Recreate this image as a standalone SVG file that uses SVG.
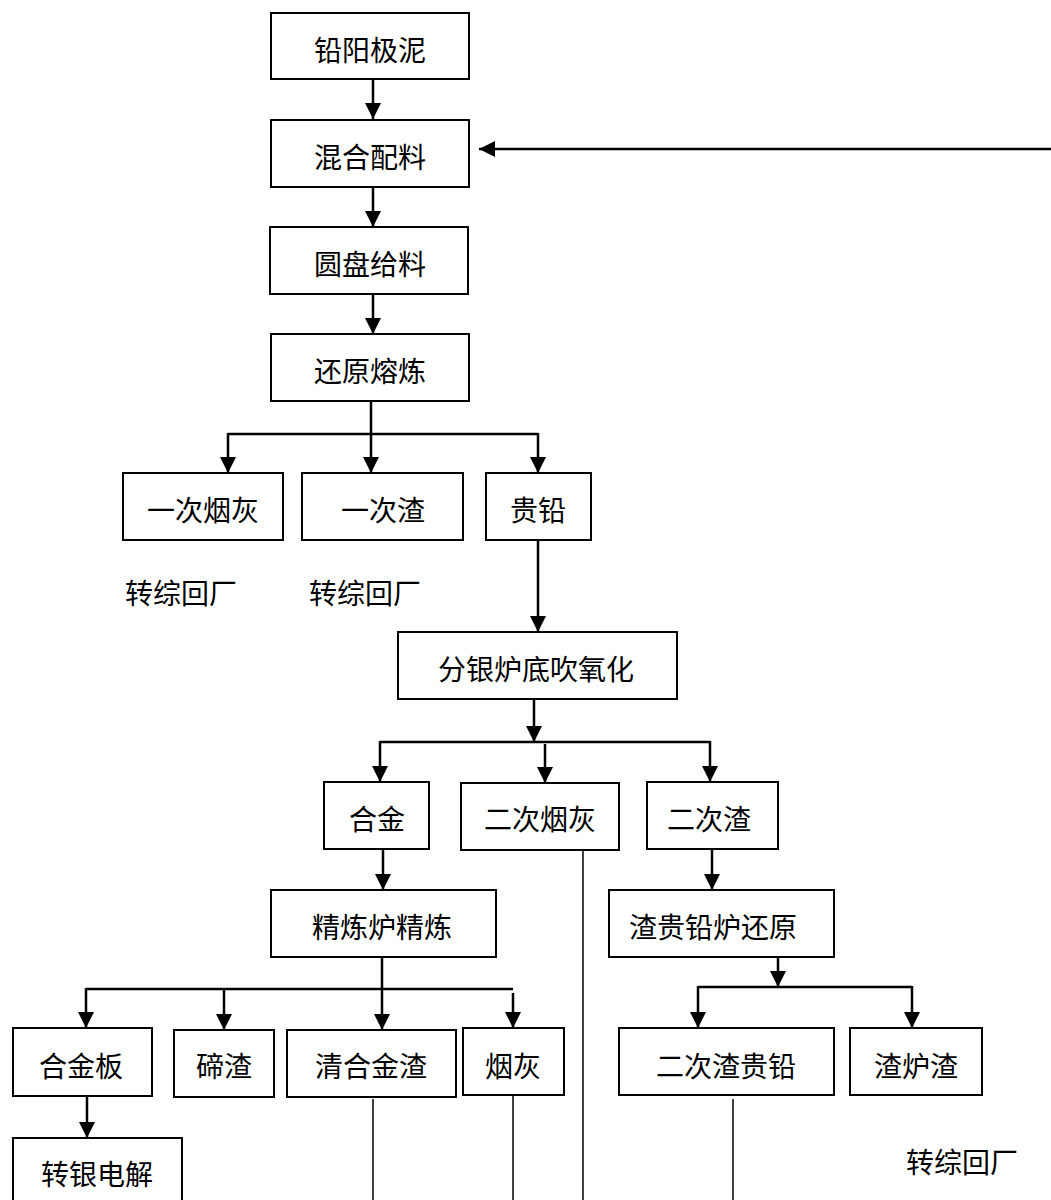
<svg xmlns="http://www.w3.org/2000/svg" width="1051" height="1200" viewBox="0 0 1051 1200">
<style>
.box{fill:#fff;stroke:#000;stroke-width:2}
.t{font-family:"Noto Sans CJK SC","Liberation Serif",serif;font-size:28px;fill:#000;text-anchor:middle}
.tl{font-family:"Noto Sans CJK SC","Liberation Serif",serif;font-size:28px;fill:#000}
.c{fill:none;stroke:#000;stroke-width:2.5}
.a{fill:none;stroke:#000;stroke-width:2.5;marker-end:url(#ah)}
.thin{fill:none;stroke:#000;stroke-width:1.5}
</style>
<defs>
<marker id="ah" markerWidth="16" markerHeight="16" refX="16" refY="8" orient="auto" markerUnits="userSpaceOnUse"><path d="M0,0 L16,8 L0,16 z" fill="#000"/></marker>
</defs>
<rect width="1051" height="1200" fill="#fff"/>
<g id="connectors">
<line class="a" x1="373" y1="79" x2="373" y2="119"/>
<line class="a" x1="373" y1="187" x2="373" y2="227"/>
<line class="a" x1="373" y1="294" x2="373" y2="334"/>
<line class="a" x1="371" y1="401" x2="371" y2="473"/>
<polyline class="c" points="228,434 538,434"/>
<line class="a" x1="228" y1="433" x2="228" y2="473"/>
<line class="a" x1="538" y1="433" x2="538" y2="473"/>
<line class="a" x1="1051" y1="149" x2="479" y2="149"/>
<line class="a" x1="538" y1="540" x2="538" y2="632"/>
<line class="a" x1="534" y1="699" x2="534" y2="742"/>
<polyline class="c" points="380,742 710,742"/>
<line class="a" x1="380" y1="741" x2="380" y2="782"/>
<line class="a" x1="545" y1="744" x2="545" y2="783"/>
<line class="a" x1="710" y1="741" x2="710" y2="782"/>
<line class="a" x1="383" y1="849" x2="383" y2="890"/>
<line class="a" x1="712" y1="849" x2="712" y2="890"/>
<line class="a" x1="382" y1="957" x2="382" y2="1030"/>
<polyline class="c" points="86,989 513,989"/>
<line class="a" x1="86" y1="988" x2="86" y2="1028"/>
<line class="a" x1="224" y1="988" x2="224" y2="1030"/>
<line class="a" x1="513" y1="993" x2="513" y2="1028"/>
<line class="a" x1="87" y1="1096" x2="87" y2="1138"/>
<line class="a" x1="778" y1="957" x2="778" y2="987"/>
<polyline class="c" points="698,987 912,987"/>
<line class="a" x1="698" y1="986" x2="698" y2="1028"/>
<line class="a" x1="912" y1="986" x2="912" y2="1028"/>
<line class="thin" x1="583" y1="850" x2="583" y2="1200"/>
<line class="thin" x1="373" y1="1099" x2="373" y2="1200"/>
<line class="thin" x1="513" y1="1095" x2="513" y2="1200"/>
<line class="thin" x1="733" y1="1099" x2="733" y2="1200"/>
</g>
<g id="n1"><rect class="box" x="271" y="13" width="198" height="66"/><text class="t" x="370" y="61">铅阳极泥</text></g>
<g id="n2"><rect class="box" x="271" y="120" width="198" height="67"/><text class="t" x="370" y="168">混合配料</text></g>
<g id="n3"><rect class="box" x="270" y="227" width="198" height="67"/><text class="t" x="370" y="275">圆盘给料</text></g>
<g id="n4"><rect class="box" x="271" y="334" width="198" height="67"/><text class="t" x="370" y="382">还原熔炼</text></g>
<g id="n5"><rect class="box" x="123" y="473" width="160" height="67"/><text class="t" x="203" y="521">一次烟灰</text></g>
<g id="n6"><rect class="box" x="302" y="473" width="161" height="67"/><text class="t" x="383" y="521">一次渣</text></g>
<g id="n7"><rect class="box" x="486" y="473" width="105" height="67"/><text class="t" x="538" y="521">贵铅</text></g>
<g id="lbl1"><text class="tl" x="125" y="604">转综回厂</text></g>
<g id="lbl2"><text class="tl" x="309" y="604">转综回厂</text></g>
<g id="n8"><rect class="box" x="398" y="632" width="279" height="67"/><text class="t" x="536" y="680">分银炉底吹氧化</text></g>
<g id="n9"><rect class="box" x="324" y="782" width="105" height="67"/><text class="t" x="377" y="830">合金</text></g>
<g id="n10"><rect class="box" x="461" y="783" width="158" height="67"/><text class="t" x="540" y="830">二次烟灰</text></g>
<g id="n11"><rect class="box" x="647" y="782" width="131" height="67"/><text class="t" x="709" y="830">二次渣</text></g>
<g id="n12"><rect class="box" x="271" y="890" width="225" height="67"/><text class="t" x="382" y="938">精炼炉精炼</text></g>
<g id="n13"><rect class="box" x="609" y="890" width="225" height="67"/><text class="t" x="713" y="938">渣贵铅炉还原</text></g>
<g id="n14"><rect class="box" x="13" y="1028" width="139" height="68"/><text class="t" x="81" y="1077">合金板</text></g>
<g id="n15"><rect class="box" x="174" y="1030" width="100" height="67"/><text class="t" x="224" y="1077">碲渣</text></g>
<g id="n16"><rect class="box" x="287" y="1030" width="169" height="67"/><text class="t" x="371" y="1077">清合金渣</text></g>
<g id="n17"><rect class="box" x="463" y="1028" width="101" height="67"/><text class="t" x="513" y="1077">烟灰</text></g>
<g id="n18"><rect class="box" x="619" y="1028" width="215" height="67"/><text class="t" x="726" y="1077">二次渣贵铅</text></g>
<g id="n19"><rect class="box" x="850" y="1028" width="132" height="67"/><text class="t" x="916" y="1077">渣炉渣</text></g>
<g id="n20"><rect class="box" x="13" y="1138" width="169" height="80"/><text class="t" x="97" y="1185">转银电解</text></g>
<g id="lbl3"><text class="tl" x="906" y="1173">转综回厂</text></g>
</svg>
